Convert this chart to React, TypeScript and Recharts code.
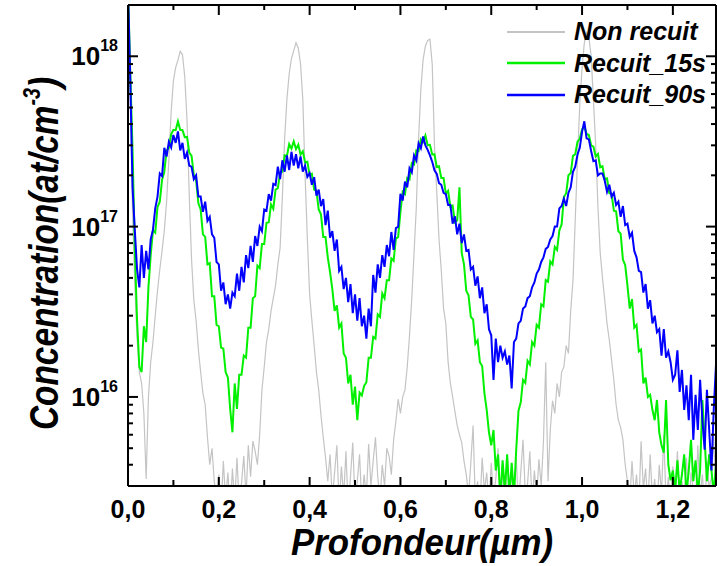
import React from 'react';
import { LineChart, Line, XAxis, YAxis, Legend } from 'recharts';

// Concentrations in units of 1e15 at/cm3, sampled every 0.005 µm from 0 to 1.295 µm
const UNIT = 1e15;
const STEP = 0.005;

const nonRecuit = [
  2500, 600, 120, 45, 22, 14, 12, 8, 3.3, 10,
  16, 21, 30, 42, 56, 72, 95, 140, 248, 470,
  720, 860, 950, 1070, 1020, 760, 420, 150, 64, 37,
  28, 19, 14, 10.5, 9, 5.8, 4, 5, 3.2, 2.4,
  3.5, 2.2, 4.2, 2.5, 3.6, 2.1, 3.8, 2.4, 4.4, 2.3,
  3.1, 4.5, 2.6, 5.2, 3.4, 5.5, 4.8, 4, 6, 11,
  15, 21, 25, 32, 38, 45, 60, 75, 150, 330,
  560, 790, 970, 1080, 1200, 1120, 900, 560, 200, 85,
  40, 28, 20, 14, 11, 7.8, 5.8, 4.4, 3.2, 4.6,
  2.5, 3.6, 5.2, 2.3, 3.9, 2.6, 4.8, 2.2, 3.4, 5.4,
  2.4, 3.2, 4.6, 2.3, 3.5, 2.6, 5.3, 3.0, 4.2, 5.8,
  3.4, 2.5, 4, 3, 5, 4.5, 3.5, 5.6, 7.2, 9.7,
  8, 10, 11, 15, 23, 38, 70, 130, 330, 640,
  960, 1150, 1240, 1260, 900, 300, 160, 84, 55, 33,
  27, 16, 12, 10, 8.2, 6.8, 6, 5.4, 4.2, 3.5,
  2.6, 4.1, 6.8, 2.4, 3.2, 2.2, 4.4, 2.8, 3.6, 2.3,
  4.1, 2.6, 3.3, 5, 2.4, 3.8, 2.2, 4.5, 2.9, 3.4,
  2.5, 4.4, 2.3, 3.6, 5.6, 2.7, 3.1, 4.8, 2.4, 3.7,
  2.6, 4.3, 3.0, 5.5, 16, 3.2, 6.4, 9.5, 8, 12,
  10, 14, 15, 20, 18, 32, 48, 110, 250, 520,
  850, 1200, 1380, 1300, 1000, 560, 300, 130, 70, 50,
  37, 27, 21.6, 16.5, 12.6, 9, 7.3, 6.6, 5.6, 4,
  3.2, 2.4, 4.2, 2.6, 3.5, 2.2, 5.5, 2.9, 3.8, 2.3,
  4.6, 2.5, 3.3, 2.1, 4.0, 2.7, 6.0, 2.4, 3.4, 2.2,
  3.9, 2.5, 4.8, 2.3, 3.2, 2.6, 4.4, 2.2, 3.6, 2.8,
  2.4, 5.2, 2.6, 3.5, 2.2, 4.2, 2.9, 3.4, 5.8, 2.5,
];

const recuit15s = [
  2500, 800, 284, 73, 28, 15, 14, 26, 21, 44,
  68, 95, 92, 130, 140, 188, 210, 280, 290, 348,
  370, 368, 415, 370, 368, 335, 336, 272, 260, 200,
  187, 137, 126, 90, 87, 60, 61, 39, 39, 26.5,
  26, 19.5, 19.2, 14, 13, 8.5, 6.2, 12, 8.5, 13.5,
  13.5, 17.5, 17, 25.5, 25.5, 38, 39, 59, 57, 79,
  79, 105, 106, 135, 127, 165, 168, 206, 210, 262,
  260, 305, 287, 316, 285, 303, 265, 277, 238, 240,
  201, 204, 165, 162, 126, 118, 87, 87, 66, 54,
  43, 32, 34.5, 25.5, 27, 18, 17, 12, 13.5, 9,
  11.5, 7.3, 10.6, 10.2, 11.6, 12.2, 17, 17, 22.5, 22,
  30.5, 29.5, 40.5, 38, 48.5, 48.5, 65, 63, 85, 87,
  122, 160, 155, 193, 189, 236, 232, 280, 277, 326,
  314, 342, 300, 302, 265, 266, 224, 226, 193, 193,
  156, 162, 131, 133, 106, 109, 170, 70, 60, 42,
  39.5, 29.5, 28.5, 20.5, 21.5, 16, 15.2, 10.5, 8.4, 6.2,
  5.2, 6.4, 3.7, 4.6, 2.5, 4.25, 2.8, 4.6, 2.6, 4.1,
  2.6, 4.9, 8.3, 9.3, 12.6, 12.1, 16.3, 15.5, 21, 20,
  26.5, 25.5, 35, 34, 48.5, 47.5, 62.5, 60, 76, 73,
  95, 103, 149, 157, 200, 206, 260, 266, 315, 328,
  372, 387, 350, 345, 300, 295, 258, 267, 223, 226,
  190, 192, 157, 156, 124, 123, 94, 91, 64, 59.5,
  45, 33, 37.5, 25.5, 26.5, 18.5, 19, 12, 13, 10,
  10.3, 8.4, 7.3, 9.6, 6.2, 5.2, 4.7, 9.6, 4, 3.24,
  3.7, 2.8, 4.25, 2.8, 3.5, 4.6, 2.7, 3.7, 5.6, 3.2,
  4.25, 2.7, 3.7, 9.6, 5.6, 3.2, 4.6, 3.7, 2.7, 4,
];

const recuit90s = [
  2500, 730, 170, 95, 56, 44, 78, 50, 72, 56,
  84, 96, 128, 150, 205, 198, 290, 258, 315, 292,
  345, 310, 362, 280, 310, 250, 272, 228, 224, 190,
  200, 150, 150, 122, 140, 108, 114, 90, 86, 62,
  60, 42, 47, 35, 40, 33, 41, 39, 53, 42,
  58, 47, 68, 57, 77, 62, 88, 77, 100, 94,
  126, 124, 155, 142, 178, 175, 225, 190, 245, 210,
  262, 215, 275, 228, 266, 220, 258, 210, 228, 196,
  206, 176, 195, 152, 165, 132, 145, 102, 124, 86,
  94, 72, 84, 55, 58, 43, 50, 36, 46, 31,
  40, 28, 38, 26, 30, 22, 33, 26, 52, 41,
  60, 50, 68, 58, 78, 67, 93, 73, 98, 100,
  156, 142, 184, 170, 220, 208, 262, 245, 308, 288,
  338, 300, 282, 262, 240, 214, 204, 180, 176, 158,
  155, 134, 134, 104, 115, 90, 104, 80, 90, 72,
  73, 56, 58, 45, 51, 38, 44, 31, 35, 25,
  23, 12.6, 22, 16, 20, 17, 18.5, 15.5, 17.5, 11.2,
  21, 22, 27, 28, 33, 34, 38, 39, 44, 47,
  53, 56, 62, 66, 74, 76, 84, 88, 100, 100,
  128, 132, 146, 132, 158, 170, 210, 225, 265, 290,
  360, 415, 330, 325, 278, 242, 245, 200, 205, 205,
  186, 160, 176, 150, 158, 134, 140, 114, 132, 102,
  104, 87, 92, 72, 66, 55, 54, 41, 46, 33,
  37, 27, 30, 24, 25, 17.5, 25, 17, 18.5, 16,
  12.6, 13.5, 18.8, 10.7, 14.4, 8.4, 11.7, 7.3, 13.5, 5.6,
  10.3, 6.4, 12.6, 7.3, 4.9, 11, 6.4, 3.7, 8.4, 15.5,
];

const xTicks = [0, 0.1, 0.2, 0.3, 0.4, 0.5, 0.6, 0.7, 0.8, 0.9, 1.0, 1.1, 1.2];
const yTicks = [
  4e15, 5e15, 6e15, 7e15, 8e15, 9e15,
  1e16, 2e16, 3e16, 4e16, 5e16, 6e16, 7e16, 8e16, 9e16,
  1e17, 2e17, 3e17, 4e17, 5e17, 6e17, 7e17, 8e17, 9e17,
  1e18, 2e18,
];

const series = [
  { key: 'nonRecuit', name: 'Non recuit', color: '#c4c4c4', width: 1.2, legendWidth: 2 },
  { key: 'recuit15s', name: 'Recuit_15s', color: '#00f000', width: 2, legendWidth: 2.5 },
  { key: 'recuit90s', name: 'Recuit_90s', color: '#0000ff', width: 2, legendWidth: 2.5 },
];

const data = nonRecuit.map((v, i) => ({
  depth: Math.round(i * STEP * 1000) / 1000,
  nonRecuit: v * UNIT,
  recuit15s: recuit15s[i] * UNIT,
  recuit90s: recuit90s[i] * UNIT,
}));

const FONT = "'Liberation Sans', Arial, Helvetica, sans-serif";

const isMajorX = (v: number) => Math.round(v * 10) % 2 === 0;
const isDecade = (v: number) => {
  const l = Math.log10(v);
  return Math.abs(l - Math.round(l)) < 1e-6;
};

const BottomTick = (p: any) => {
  const { x, y, payload } = p;
  const major = isMajorX(payload.value);
  return (
    <g>
      <line x1={x} x2={x} y1={y} y2={y - (major ? 9 : 6)} stroke="#000" strokeWidth={2} />
      {major && (
        <text x={x} y={y + 32} textAnchor="middle" fontFamily={FONT} fontWeight="bold" fontSize={25} fill="#000">
          {payload.value.toFixed(1).replace('.', ',')}
        </text>
      )}
    </g>
  );
};

const TopTick = (p: any) => {
  const { x, y, payload } = p;
  const major = isMajorX(payload.value);
  return <line x1={x} x2={x} y1={y} y2={y + (major ? 10 : 5)} stroke="#000" strokeWidth={2} />;
};

const LeftTick = (p: any) => {
  const { x, y, payload } = p;
  const major = isDecade(payload.value);
  const exp = Math.round(Math.log10(payload.value));
  return (
    <g>
      <line x1={x} x2={x + (major ? 10 : 5)} y1={y} y2={y} stroke="#000" strokeWidth={2} />
      {major && (
        <text x={x - 10} y={y + 9} textAnchor="end" fontFamily={FONT} fontWeight="bold" fontSize={26} fill="#000">
          10
          <tspan dy={-14} fontSize={16}>{exp}</tspan>
        </text>
      )}
    </g>
  );
};

const RightTick = (p: any) => {
  const { x, y, payload } = p;
  const major = isDecade(payload.value);
  return <line x1={x} x2={x - (major ? 10 : 5)} y1={y} y2={y} stroke="#000" strokeWidth={2} />;
};

const XTitle = (p: any) => {
  const vb = p.viewBox || {};
  return (
    <text
      x={vb.x + vb.width / 2}
      y={vb.y + 69}
      textAnchor="middle"
      fontFamily={FONT}
      fontWeight="bold"
      fontStyle="italic"
      fontSize={37}
      textLength={262}
      lengthAdjust="spacingAndGlyphs"
      fill="#000"
    >
      Profondeur(µm)
    </text>
  );
};

const YTitle = (p: any) => {
  const vb = p.viewBox || {};
  const cx = vb.x + 30;
  const cy = vb.y + vb.height / 2 + 8;
  return (
    <text
      x={cx}
      y={cy}
      transform={`rotate(-90, ${cx}, ${cy})`}
      textAnchor="middle"
      fontFamily={FONT}
      fontWeight="bold"
      fontStyle="italic"
      fontSize={41}
      textLength={353}
      lengthAdjust="spacingAndGlyphs"
      fill="#000"
    >
      Concentration(at/cm
      <tspan dy={-18} fontSize={24}>-3</tspan>
      <tspan dy={18}>)</tspan>
    </text>
  );
};

const LegendContent = (props: any) => {
  const payload = props.payload || [];
  return (
    <div style={{ display: 'flex', flexDirection: 'column' }}>
      {payload.map((entry: any) => {
        const meta = series.find((s) => s.name === entry.value);
        return (
          <div key={entry.value} style={{ display: 'flex', alignItems: 'center', height: 31.5 }}>
            <svg width={58} height={10} style={{ display: 'block' }}>
              <line x1={0} x2={58} y1={5} y2={5} stroke={entry.color} strokeWidth={meta ? meta.legendWidth : 2} />
            </svg>
            <span
              style={{
                marginLeft: 9,
                fontFamily: FONT,
                fontWeight: 'bold',
                fontStyle: 'italic',
                fontSize: 25,
                color: '#000',
                lineHeight: '31.5px',
                whiteSpace: 'nowrap',
              }}
            >
              {entry.value}
            </span>
          </div>
        );
      })}
    </div>
  );
};

export default function App() {
  return (
    <div style={{ position: 'absolute', left: 0, top: 0, width: 717, height: 566, background: '#fff' }}>
      <LineChart
        width={717}
        height={566}
        data={data}
        margin={{ top: 4, right: 0, bottom: 30, left: 28 }}
      >
        <XAxis
          xAxisId="bottom"
          dataKey="depth"
          type="number"
          domain={[0, 1.295]}
          allowDataOverflow
          ticks={xTicks}
          interval={0}
          tickSize={0}
          tickMargin={0}
          tickLine={false}
          tick={(p: any) => <BottomTick {...p} />}
          axisLine={{ stroke: '#000', strokeWidth: 2 }}
          height={50}
          label={<XTitle />}
        />
        <XAxis
          xAxisId="top"
          orientation="top"
          dataKey="depth"
          type="number"
          domain={[0, 1.295]}
          allowDataOverflow
          ticks={xTicks}
          interval={0}
          tickSize={0}
          tickMargin={0}
          tickLine={false}
          tick={(p: any) => <TopTick {...p} />}
          axisLine={{ stroke: '#000', strokeWidth: 2 }}
          height={1}
        />
        <YAxis
          yAxisId="left"
          type="number"
          scale="log"
          domain={[3e15, 2e18]}
          allowDataOverflow
          ticks={yTicks}
          interval={0}
          tickSize={0}
          tickMargin={0}
          tickLine={false}
          tick={(p: any) => <LeftTick {...p} />}
          axisLine={{ stroke: '#000', strokeWidth: 2 }}
          width={100}
          label={<YTitle />}
        />
        <YAxis
          yAxisId="right"
          orientation="right"
          type="number"
          scale="log"
          domain={[3e15, 2e18]}
          allowDataOverflow
          ticks={yTicks}
          interval={0}
          tickSize={0}
          tickMargin={0}
          tickLine={false}
          tick={(p: any) => <RightTick {...p} />}
          axisLine={{ stroke: '#000', strokeWidth: 2 }}
          width={1}
        />
        <Legend
          layout="vertical"
          align="center"
          verticalAlign="middle"
          content={<LegendContent />}
          wrapperStyle={{ left: 507, top: 16, width: 'auto', height: 'auto' }}
        />
        {series.map((s) => (
          <Line
            key={s.key}
            xAxisId="bottom"
            yAxisId="left"
            type="linear"
            dataKey={s.key}
            name={s.name}
            stroke={s.color}
            strokeWidth={s.width}
            dot={false}
            activeDot={false}
            isAnimationActive={false}
          />
        ))}
      </LineChart>
    </div>
  );
}
